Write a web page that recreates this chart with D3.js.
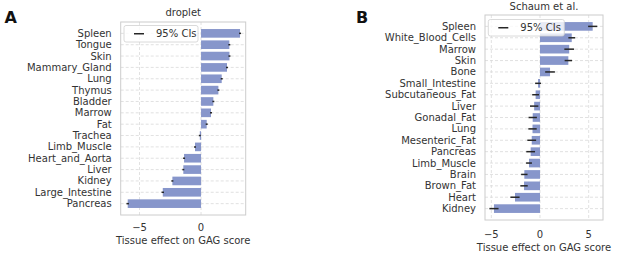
<!DOCTYPE html>
<html><head><meta charset="utf-8">
<script src="https://cdn.jsdelivr.net/npm/d3@7"></script>
<style>body{margin:0;background:#fff}svg{display:block}text{font-family:"DejaVu Sans",sans-serif}</style>
</head><body><svg id="c" width="617" height="254"></svg>
<script>
// Panel A: droplet
const tissuesA = ["Spleen","Tongue","Skin","Mammary_Gland","Lung","Thymus","Bladder","Marrow","Fat","Trachea","Limb_Muscle","Heart_and_Aorta","Liver","Kidney","Large_Intestine","Pancreas"];
const effectA = [3.17,2.30,2.31,2.11,1.68,1.41,1.00,0.81,0.46,-0.10,-0.49,-1.38,-1.44,-2.33,-3.11,-5.96];
const ciA = [0.08,0.08,0.08,0.08,0.08,0.08,0.08,0.08,0.08,0.08,0.08,0.08,0.08,0.08,0.1,0.1];
// Panel B: Schaum et al.
const tissuesB = ["Spleen","White_Blood_Cells","Marrow","Skin","Bone","Small_Intestine","Subcutaneous_Fat","Liver","Gonadal_Fat","Lung","Mesenteric_Fat","Pancreas","Limb_Muscle","Brain","Brown_Fat","Heart","Kidney"];
const effectB = [5.41,3.26,3.0,2.91,1.03,-0.2,-0.45,-0.6,-0.75,-0.77,-0.85,-0.96,-1.13,-1.61,-1.64,-2.57,-4.73];
const ciB = [0.47,0.35,0.5,0.38,0.5,0.3,0.35,0.43,0.43,0.43,0.45,0.45,0.3,0.33,0.38,0.47,0.47];
const ticksA = [-5,0];
const ticksB = [-5,0,5];

const svg = d3.select("#c");
const barColor = "#8796cb", textColor = "#333333", gridColor = "#d9d9d9", spineColor = "#cccccc";
const FS = 10;

function panel(o){
  const g = svg.append("g");
  const x = d3.scaleLinear().domain(o.xdom).range([o.left,o.right]);
  const y = d3.scalePoint().domain(o.cats).range([o.top,o.bottom]).padding(1);
  const bh = y.step()*0.76;
  g.selectAll(".hg").data(o.cats).join("line")
    .attr("x1",o.left).attr("x2",o.right).attr("y1",d=>y(d)).attr("y2",d=>y(d))
    .attr("stroke",gridColor).attr("stroke-width",0.8).attr("stroke-dasharray","3,2");
  g.selectAll(".vg").data(o.ticks).join("line")
    .attr("x1",d=>x(d)).attr("x2",d=>x(d)).attr("y1",o.top).attr("y2",o.bottom)
    .attr("stroke",gridColor).attr("stroke-width",0.8).attr("stroke-dasharray","3,2");
  g.selectAll(".bar").data(o.cats).join("rect")
    .attr("x",(d,i)=>Math.min(x(0),x(o.vals[i])))
    .attr("width",(d,i)=>Math.abs(x(o.vals[i])-x(0)))
    .attr("y",d=>y(d)-bh/2).attr("height",bh).attr("fill",barColor);
  g.selectAll(".err").data(o.cats).join("line")
    .attr("x1",(d,i)=>x(o.vals[i]-o.ci[i])).attr("x2",(d,i)=>x(o.vals[i]+o.ci[i]))
    .attr("y1",d=>y(d)).attr("y2",d=>y(d))
    .attr("stroke","#262626").attr("stroke-width",1.5);
  g.append("rect").attr("x",o.left).attr("y",o.top).attr("width",o.right-o.left).attr("height",o.bottom-o.top)
    .attr("fill","none").attr("stroke",spineColor).attr("stroke-width",1);
  g.selectAll(".yl").data(o.cats).join("text")
    .attr("x",o.left-9).attr("y",d=>y(d)).attr("dy","0.35em").attr("text-anchor","end")
    .attr("font-size",FS).attr("fill",textColor).text(d=>d);
  g.selectAll(".xl").data(o.ticks).join("text")
    .attr("x",d=>x(d)).attr("y",o.tickY).attr("text-anchor","middle")
    .attr("font-size",FS).attr("fill",textColor).text(d=>d3.format("")(d).replace("-","\u2212"));
  g.append("text").attr("x",(o.left+o.right)/2).attr("y",o.labelY).attr("text-anchor","middle")
    .attr("font-size",FS).attr("fill",textColor).text("Tissue effect on GAG score");
  g.append("text").attr("x",(o.left+o.right)/2).attr("y",o.titleY).attr("text-anchor","middle")
    .attr("font-size",FS).attr("fill",textColor).text(o.title);
  const L = o.legend;
  g.append("rect").attr("x",L.x).attr("y",L.y).attr("width",L.w).attr("height",L.h).attr("rx",2)
    .attr("fill","white").attr("fill-opacity",0.8).attr("stroke","#d0d0d0").attr("stroke-width",0.8);
  g.append("line").attr("x1",L.x+10).attr("x2",L.x+20).attr("y1",L.y+L.h/2).attr("y2",L.y+L.h/2)
    .attr("stroke","#262626").attr("stroke-width",1.5);
  g.append("text").attr("x",L.x+32).attr("y",L.y+L.h/2).attr("dy","0.35em")
    .attr("font-size",FS).attr("fill",textColor).text("95% CIs");
  svg.append("text").attr("x",o.letterX).attr("y",22.5).attr("font-family","Liberation Sans, Arial, sans-serif")
    .attr("font-weight","bold").attr("font-size",16).attr("fill","#111").text(o.letter);
}

panel({cats:tissuesA, vals:effectA, ci:ciA, ticks:ticksA, xdom:[-6.53,3.63],
  left:120.7, right:245.7, top:22, bottom:215, tickY:231, labelY:244, titleY:16,
  title:"droplet", letter:"A", letterX:4.5,
  legend:{x:124,y:25.5,w:74,h:16.5}});
panel({cats:tissuesB, vals:effectB, ci:ciB, ticks:ticksB, xdom:[-5.65,6.47],
  left:485, right:603, top:15, bottom:220, tickY:238, labelY:251, titleY:10,
  title:"Schaum et al.", letter:"B", letterX:356,
  legend:{x:488.3,y:19.5,w:76,h:16.5}});
</script></body></html>
